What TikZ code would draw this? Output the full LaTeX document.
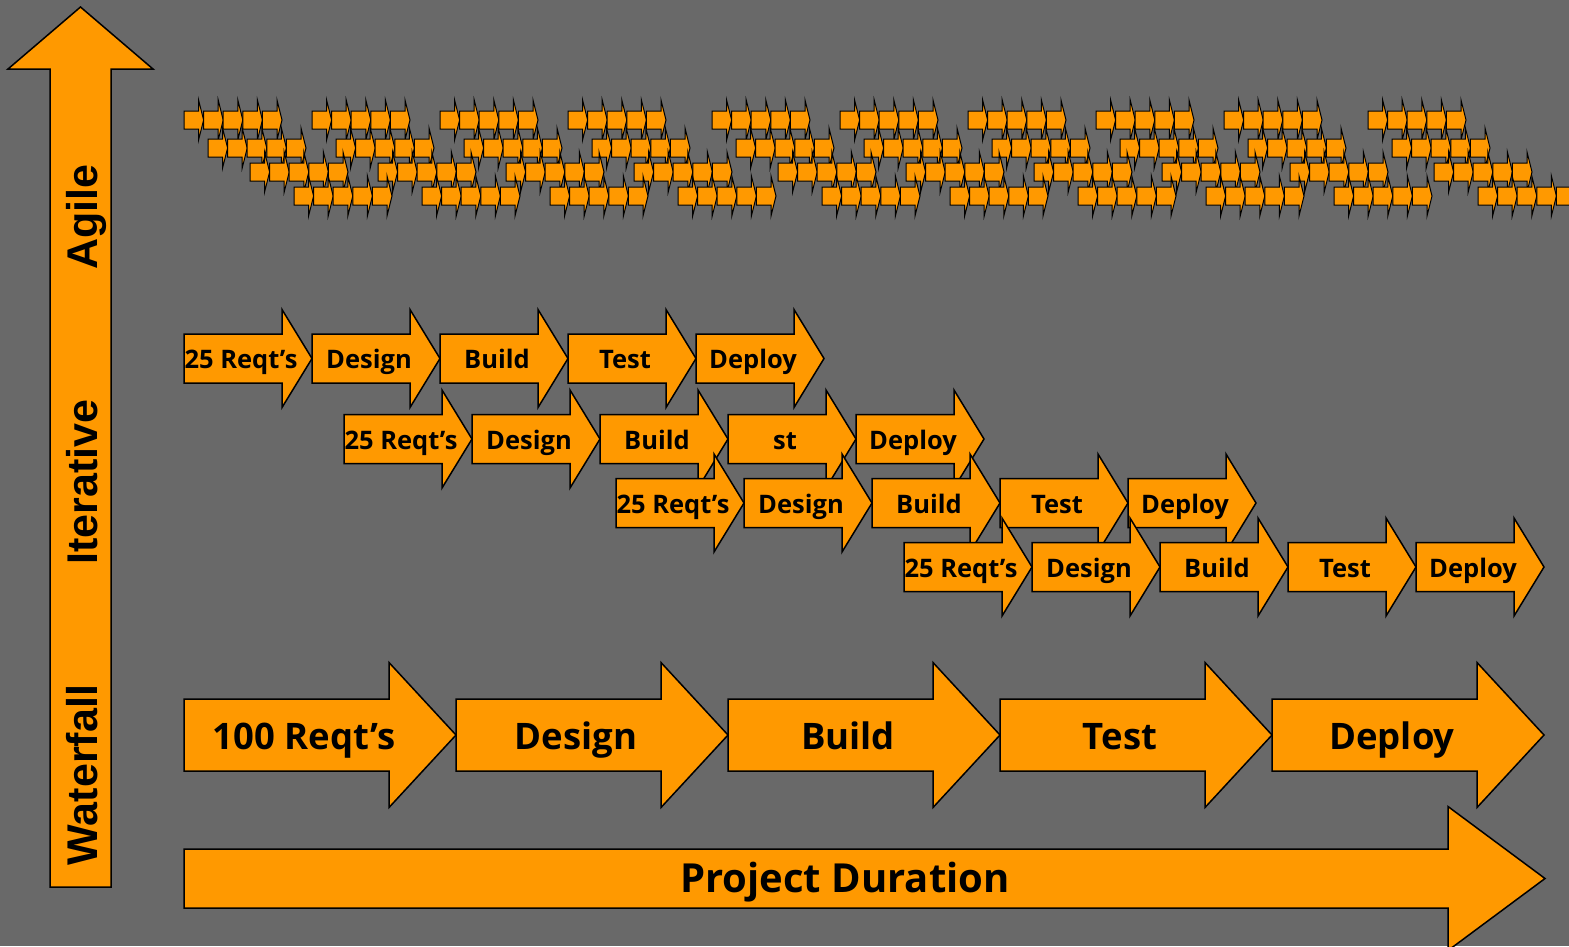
\documentclass[tikz,border=0pt]{standalone}
\usepackage{fontspec}
\setmainfont{Open Sans}
\newfontfamily\vfont{Liberation Sans}

\definecolor{bg}{HTML}{696969}
\definecolor{amber}{HTML}{FF9900}

\tikzset{
  blk/.style={fill=amber, draw=black, line width=1.5pt, line join=miter},
  minis/.style={fill=amber, draw=black, line width=1pt},
  lbl/.style={inner sep=0pt, anchor=base, text=black},
  vlbl/.style={inner sep=0pt, anchor=base, rotate=90, text=black,
    font=\vfont\bfseries\fontsize{43}{43}\selectfont},
}

% block arrow: left x, centre y, length, head length, body half-height, head half-height, style
\newcommand\blockarrow[7]{%
  \draw[#7] ({#1},{#2-#5}) -- ({#1+#3-#4},{#2-#5}) -- ({#1+#3-#4},{#2-#6})
    -- ({#1+#3},{#2}) -- ({#1+#3-#4},{#2+#6}) -- ({#1+#3-#4},{#2+#5})
    -- ({#1},{#2+#5}) -- cycle;}

\begin{document}
\begin{tikzpicture}[x=1pt,y=-1pt]
  \useasboundingbox (0,0) rectangle (1569,946);
  \clip (0,0) rectangle (1569,946);
  \fill[bg] (0,0) rectangle (1569,946);

  % agile: many tiny iterations
  \foreach \yy/\dx in {120/0,148/24,172/66,196/110} {
    \foreach \gx in {184,312,440,568,712,840,968,1096,1224,1368} {
      \foreach \k in {0,...,4} {
        \blockarrow{\gx+\dx+\k*19.6}{\yy}{19.6}{5}{9}{20}{minis}
      }
    }
  }

  % iterative: four overlapping cycles
  \foreach \r/\xs/\yc/\fourth in {1/184/358.5/Test, 2/344/439/st, 3/616/503/Test, 4/904/567/Test} {
    \foreach \t [count=\i from 0] in {25 Reqt’s, Design, Build, \fourth, Deploy} {
      \blockarrow{\xs+\i*128}{\yc}{128}{30}{24.5}{49}{blk}
      \node[lbl, font=\bfseries\fontsize{25.5}{25.5}\selectfont] (it\r-\i) at ({\xs+\i*128+57},{\yc+10}) {\t};
    }
  }

  % waterfall: one long pass
  \foreach \t [count=\i from 0] in {100 Reqt’s, Design, Build, Test, Deploy} {
    \blockarrow{184+\i*272}{735}{272}{67}{36}{72.5}{blk}
    \node[lbl, font=\bfseries\fontsize{36.5}{36.5}\selectfont] (wf\i) at ({184+\i*272+120},749) {\t};
  }

  % time axis
  \blockarrow{184}{878.5}{1361}{97}{29.5}{72}{blk}
  \node[lbl, font=\bfseries\fontsize{40}{40}\selectfont] (dur) at (845,892) {Project Duration};

  % vertical scale arrow
  \draw[blk] (50,887) -- (50,69) -- (8,69) -- (80.5,7) -- (153,69) -- (111,69) -- (111,887) -- cycle;
  \node[vlbl] (agile) at (97,217) {Agile};
  \node[vlbl] (iter) at (97,482) {Iterative};
  \node[vlbl] (water) at (97,775) {Waterfall};
\end{tikzpicture}
\end{document}
